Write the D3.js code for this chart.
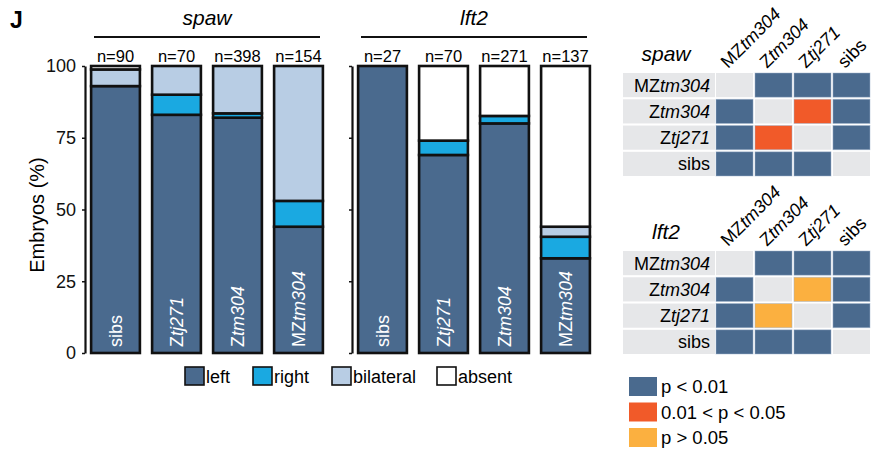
<!DOCTYPE html>
<html><head><meta charset="utf-8">
<script src="https://cdn.jsdelivr.net/npm/d3@7"></script>
<style>
body{margin:0;background:#fff;}
svg{font-family:"Liberation Sans",Arial,Helvetica,sans-serif;}
</style></head>
<body><svg id="c" width="875" height="453"></svg>
<script>
// ---- data ----
const genotypes = ["sibs","Ztj271","Ztm304","MZtm304"];
const categories = ["left","right","bilateral","absent"];
const spawN = [90,70,398,154];
const spawLeft = [93,83,82,44];
const spawRight = [0,7,1.5,9];
const spawBilateral = [5.8,10,16.5,47];
const spawAbsent = [1.2,0,0,0];
const lft2N = [27,70,271,137];
const lft2Left = [100,69,80,33];
const lft2Right = [0,5,2.6,7.5];
const lft2Bilateral = [0,0,0,3.5];
const lft2Absent = [0,26,17.4,56];
const yTicks = [0,25,50,75,100];
const hmLabels = ["MZtm304","Ztm304","Ztj271","sibs"];
// 0 = same group, 1 = p<0.01, 2 = 0.01<p<0.05, 3 = p>0.05
const spawSig = [[0,1,1,1],[1,0,2,1],[1,2,0,1],[1,1,1,0]];
const lft2Sig = [[0,1,1,1],[1,0,3,1],[1,3,0,1],[1,1,1,0]];
const sigLabels = ["p < 0.01","0.01 < p < 0.05","p > 0.05"];

const colors = {left:"#4a6a8e", right:"#1aa9e1", bilateral:"#b8cde4", absent:"#ffffff"};
const sigColors = ["#e6e7e9","#4a6a8e","#f15a29","#fbb040"];

const svg = d3.select("#c");

function geno(sel, name){
  const m = name.match(/^(MZ|Z)(.*)$/);
  if(m){
    sel.append("tspan").text(m[1]);
    sel.append("tspan").attr("font-style","italic").text(m[2]);
  } else sel.append("tspan").text(name);
}

const y = d3.scaleLinear().domain([0,100]).range([353,66]);

svg.append("text").attr("x",10).attr("y",28).attr("font-size",23).attr("font-weight","bold").text("J");

svg.append("text").attr("transform","translate(44,215) rotate(-90)")
  .attr("text-anchor","middle").attr("font-size",20).text("Embryos (%)");

function panel(name, range, axisX, showLabels, n, left, right, bil, abs){
  const x = d3.scaleBand().domain(genotypes).range(range).paddingInner(0.2).paddingOuter(0.1);
  const rows = genotypes.map((g,i)=>({g, left:left[i], right:right[i], bilateral:bil[i], absent:abs[i]}));
  const stack = d3.stack().keys(categories)(rows);
  const ax = d3.axisLeft(y).tickValues(yTicks).tickSize(3).tickSizeOuter(0)
    .tickFormat(showLabels? d3.format("d") : "");
  const ag = svg.append("g").attr("transform",`translate(${axisX},0)`).call(ax);
  ag.select(".domain").attr("stroke","#111").attr("stroke-width",2.2);
  ag.selectAll(".tick line").attr("stroke","#111").attr("stroke-width",1.5);
  ag.selectAll(".tick text").attr("font-size",18).attr("fill","#111").attr("x",-9)
    .attr("font-family","Liberation Sans, Arial, sans-serif");
  stack.forEach(layer=>{
    svg.append("g").selectAll("rect").data(layer.filter(d=>d[1]-d[0]>0)).join("rect")
      .attr("x",d=>x(d.data.g)).attr("width",x.bandwidth())
      .attr("y",d=>y(d[1])).attr("height",d=>y(d[0])-y(d[1]))
      .attr("fill",colors[layer.key]).attr("stroke","#111").attr("stroke-width",2.6);
  });
  svg.append("g").selectAll("text").data(genotypes).join("text")
    .attr("x",g=>x(g)+x.bandwidth()/2).attr("y",62).attr("text-anchor","middle")
    .attr("font-size",16.5).text((g,i)=>"n="+n[i]);
  svg.append("g").selectAll("text").data(genotypes).join("text")
    .attr("transform",g=>`translate(${x(g)+x.bandwidth()/2+6.5},347) rotate(-90)`)
    .attr("font-size",18).attr("fill","#fff")
    .each(function(g){ geno(d3.select(this), g); });
  const x0 = range[0]+9, x1 = range[1]-9;
  svg.append("line").attr("x1",x0).attr("x2",x1).attr("y1",37).attr("y2",37)
    .attr("stroke","#111").attr("stroke-width",2.2);
  svg.append("text").attr("x",(x0+x1)/2).attr("y",25).attr("text-anchor","middle")
    .attr("font-size",21).attr("font-style","italic").text(name);
}

panel("spaw",[85,329],85,true,spawN,spawLeft,spawRight,spawBilateral,spawAbsent);
panel("lft2",[352,596],352,false,lft2N,lft2Left,lft2Right,lft2Bilateral,lft2Absent);

const lg = svg.append("g");
const legX = [185,253,332,437];
categories.forEach((c,i)=>{
  lg.append("rect").attr("x",legX[i]).attr("y",367).attr("width",19).attr("height",18)
    .attr("fill",colors[c]).attr("stroke","#111").attr("stroke-width",1.6);
  lg.append("text").attr("x",legX[i]+21).attr("y",383).attr("font-size",18).text(c);
});

function heat(title, sig, top){
  const cx = d3.scaleBand().domain(hmLabels).range([716,870]).paddingInner(0.05);
  const ry = d3.scaleBand().domain(hmLabels).range([top, top+103]).paddingInner(0.08);
  const g = svg.append("g");
  g.selectAll("rect.lab").data(hmLabels).join("rect").attr("class","lab")
    .attr("x",623).attr("width",92).attr("y",d=>ry(d)).attr("height",ry.bandwidth())
    .attr("fill",sigColors[0]);
  g.selectAll("text.row").data(hmLabels).join("text").attr("class","row")
    .attr("x",710).attr("y",d=>ry(d)+ry.bandwidth()/2+6.5).attr("text-anchor","end")
    .attr("font-size",18).each(function(d){ geno(d3.select(this), d); });
  const cells = [];
  sig.forEach((row,i)=>row.forEach((v,j)=>cells.push({r:hmLabels[i], c:hmLabels[j], v})));
  g.selectAll("rect.cell").data(cells).join("rect").attr("class","cell")
    .attr("x",d=>cx(d.c)).attr("y",d=>ry(d.r)).attr("width",cx.bandwidth()).attr("height",ry.bandwidth())
    .attr("fill",d=>sigColors[d.v]).attr("stroke",d=>d.v?"#9fb3cc":"none").attr("stroke-width",d=>d.v?0.8:0)
    .attr("stroke-opacity",0.6);
  g.selectAll("text.col").data(hmLabels).join("text").attr("class","col")
    .attr("transform",d=>`translate(${cx(d)+12},${top-4}) rotate(-45)`)
    .attr("font-size",18).each(function(d){ geno(d3.select(this), d); });
  g.append("text").attr("x",666).attr("y",top-12).attr("text-anchor","middle")
    .attr("font-size",21).attr("font-style","italic").text(title);
}
heat("spaw", spawSig, 73);
heat("lft2", lft2Sig, 251);

const sl = svg.append("g");
sigLabels.forEach((s,i)=>{
  const yy = 377 + i*25.5;
  sl.append("rect").attr("x",629).attr("y",yy).attr("width",28).attr("height",19).attr("fill",sigColors[i+1]);
  sl.append("text").attr("x",661).attr("y",yy+16).attr("font-size",18.5).text(s);
});
</script>
</body></html>
